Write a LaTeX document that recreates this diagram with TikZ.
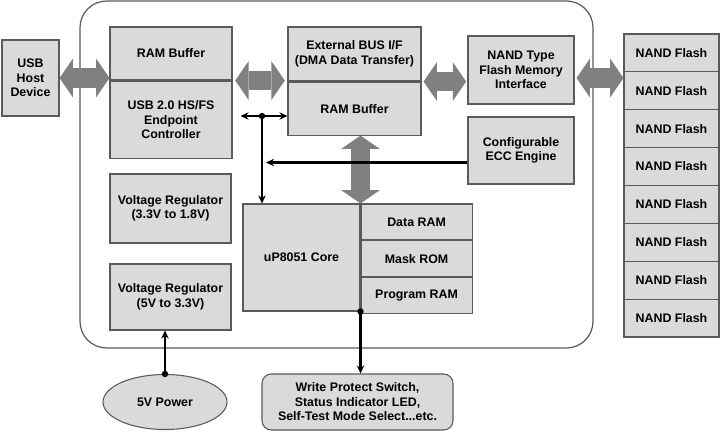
\documentclass[tikz,border=0pt]{standalone}
\usepackage{fontspec}
\setmainfont{Liberation Sans}
\usepackage{tikz}
\usetikzlibrary{shapes.geometric, arrows.meta, positioning}

\definecolor{boxfill}{HTML}{DADADA}
\definecolor{boxline}{HTML}{5A5A5A}
\definecolor{fatgray}{HTML}{808080}

\begin{document}
\begin{tikzpicture}[x=0.75pt, y=-0.75pt,
    >={Stealth[length=6pt,width=5.5pt]},
    blk/.style={draw=boxline, fill=boxfill, line width=0.8pt, inner sep=0pt, align=center,
        font=\fontsize{9.3}{10.9}\selectfont\bfseries},
    fat/.style={draw=fatgray, line width=14.5pt,
        {Triangle[width=29pt,length=10pt,line width=0pt]}-{Triangle[width=29pt,length=10pt,line width=0pt]}},
    bus/.style={line width=1.6pt}]
    \fill[white] (0,0) rectangle (720,432);
    \useasboundingbox (0,0) rectangle (720,432);

    % Controller frame
    \draw[boxline, line width=0.9pt, rounded corners=20pt] (80,1) rectangle (593,348);

    % Host side
    \node[blk, minimum width=42.75pt, minimum height=57pt] (host) at (30.5,78) {USB\\Host\\Device};
    \node[blk, minimum width=91.5pt, minimum height=39.75pt] (usbbuf) at (171,53.5) {RAM Buffer};
    \node[blk, minimum width=91.5pt, minimum height=57.75pt, below=0pt of usbbuf] (usbep) {USB 2.0 HS/FS\\Endpoint\\Controller};

    % Bus and NAND interface
    \node[blk, minimum width=99.75pt, minimum height=40.5pt] (extbus) at (354.5,54) {External BUS I/F\\(DMA Data Transfer)};
    \node[blk, minimum width=99.75pt, minimum height=39.75pt, below=0pt of extbus] (extram) {RAM Buffer};
    \node[blk, minimum width=79.5pt, minimum height=51pt] (nandif) at (521,70) {NAND Type\\Flash Memory\\Interface};
    \node[blk, minimum width=79.5pt, minimum height=50.25pt] (ecc) at (521,150.5) {Configurable\\ECC Engine};

    % Flash array
    \foreach \i in {1,...,8}
        \node[blk, minimum width=71.25pt, minimum height=28.4pt] (flash\i) at (671.5,{34+37.875*(\i-0.5)}) {NAND Flash};

    % Regulators
    \node[blk, minimum width=90.75pt, minimum height=51.75pt] (vreg1) at (170.5,208.5) {Voltage Regulator\\(3.3V to 1.8V)};
    \node[blk, minimum width=90.75pt, minimum height=49.5pt] (vreg2) at (170.5,297) {Voltage Regulator\\(5V to 3.3V)};

    % CPU and memories
    \node[blk, minimum width=87.75pt, minimum height=80.25pt] (core) at (301.5,257.5) {uP8051 Core};
    \node[blk, minimum width=83.25pt, minimum height=26.75pt, anchor=north west] (dram) at (core.north east) {Data RAM};
    \node[blk, minimum width=83.25pt, minimum height=26.75pt, below=0pt of dram] (mrom) {Mask ROM};
    \node[blk, minimum width=83.25pt, minimum height=26.75pt, below=0pt of mrom] (pram) {Program RAM};

    % Outside parts
    \node[blk, ellipse, minimum width=93pt, minimum height=41.25pt] (power) at (165,402) {5V Power};
    \node[blk, rounded corners=7pt, minimum width=143.25pt, minimum height=42pt] (wp) at (357.5,402)
        {Write Protect Switch,\\Status Indicator LED,\\Self-Test Mode Select...etc.};

    % Data paths
    \draw[fat] (host.east) -- (host.east -| usbep.west);
    \draw[fat] ([xshift=2pt]usbbuf.south east) -- ([xshift=-2pt]usbbuf.south east -| extbus.west);
    \draw[fat] ([xshift=1.5pt]extbus.south east) -- ([xshift=-1pt]extbus.south east -| nandif.west);
    \draw[fat] ([xshift=1.5pt,yshift=-6pt]nandif.east) -- ([yshift=-6pt]nandif.east -| flash1.west);
    \draw[fat] (extram.south -| core.north east) -- (core.north east);

    % Control lines
    \coordinate (junc) at (262,116);
    \draw[bus, <->] ([xshift=6pt]usbep.east |- junc) -- (extram.west |- junc);
    \fill (junc) circle (2.4pt);
    \draw[bus, ->] (junc) -- (junc |- core.north);
    \coordinate (eccout) at ([yshift=-9pt]ecc.west);
    \draw[bus, ->] (eccout) -- ([xshift=3pt]junc |- eccout);
    \fill (core.south east) circle (2.4pt);
    \draw[bus, ->] (core.south east) -- (core.south east |- wp.north);
    \fill (power.north) circle (2.4pt);
    \draw[bus, ->] (power.north) -- (power.north |- vreg2.south);
\end{tikzpicture}
\end{document}
